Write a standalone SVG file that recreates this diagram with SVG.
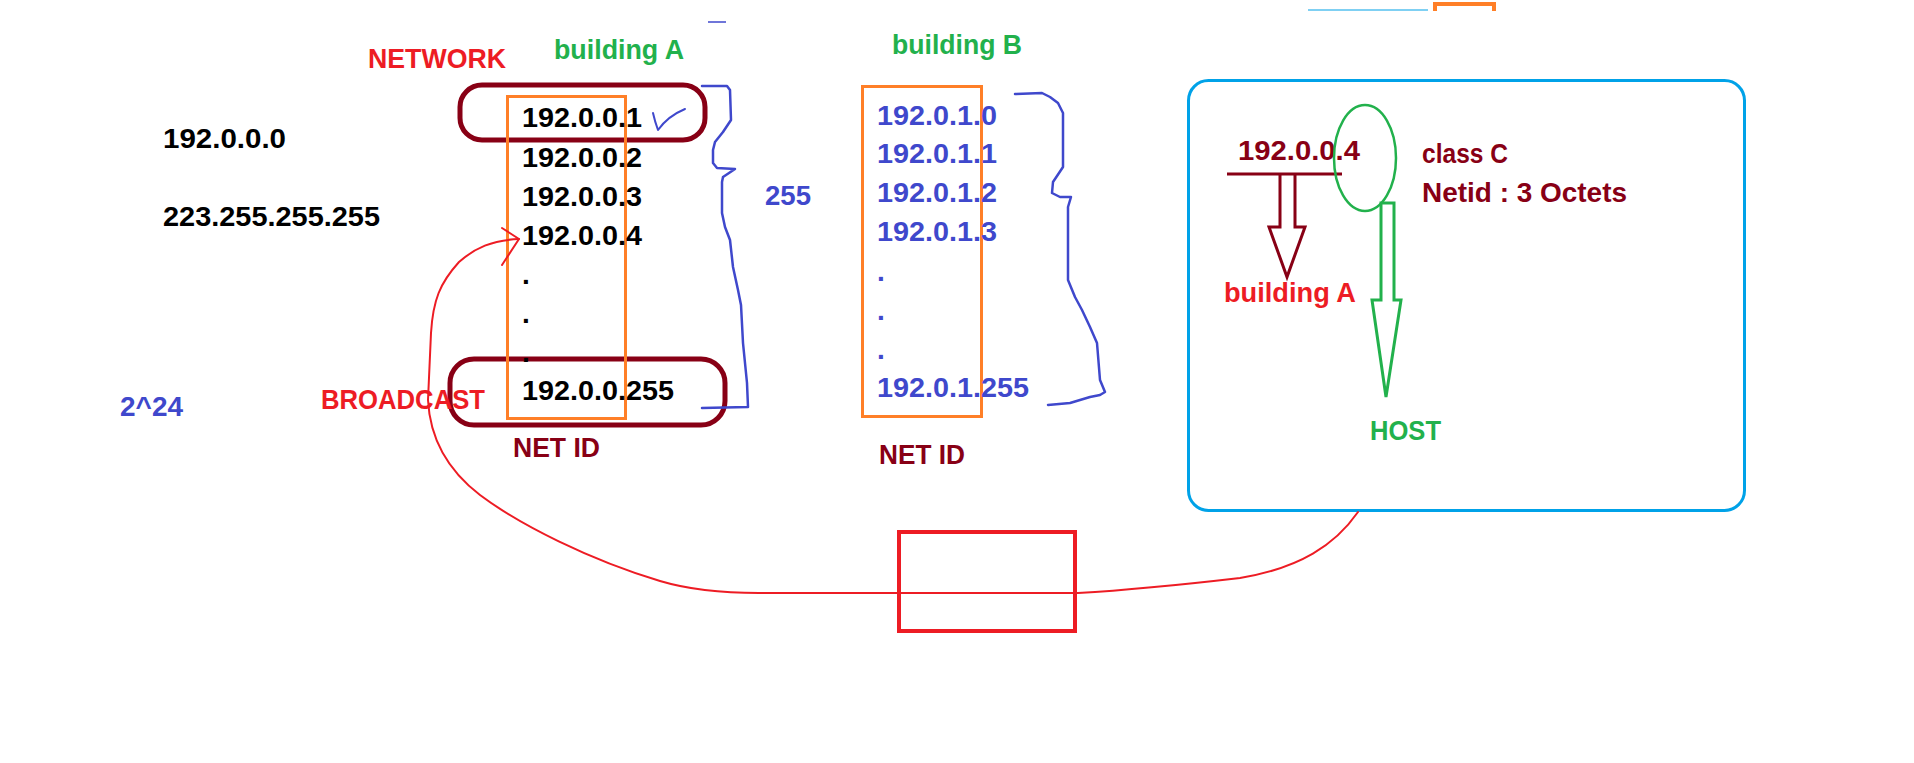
<svg xmlns="http://www.w3.org/2000/svg" width="1914" height="763" viewBox="0 0 1914 763">
<style>
.t{font-family:"Liberation Sans",Arial,sans-serif;font-weight:bold;font-size:28px}
.red{fill:#ED1C24}.green{fill:#22B14C}.blue{fill:#3F48CC}.maroon{fill:#880015}.black{fill:#000}
.ln{fill:none;stroke-linejoin:round;stroke-linecap:round}
</style>
<rect width="1914" height="763" fill="#fff"/>

<g id="top-marks">
<line x1="708" y1="22" x2="726" y2="22" stroke="#3F48CC" stroke-width="1.5"/>
<line x1="1308" y1="10" x2="1428" y2="10" stroke="#00A2E8" stroke-width="1.2"/>
<path d="M1435,11 V4 H1494 V11" fill="none" stroke="#FF7F27" stroke-width="4"/>
</g>

<g id="labels-left">
<text class="t red" x="368" y="68" textLength="138" lengthAdjust="spacingAndGlyphs">NETWORK</text>
<text class="t black" x="163" y="148" textLength="123" lengthAdjust="spacingAndGlyphs">192.0.0.0</text>
<text class="t black" x="163" y="226" textLength="217" lengthAdjust="spacingAndGlyphs">223.255.255.255</text>
<text class="t blue" x="120" y="416" textLength="63" lengthAdjust="spacingAndGlyphs">2^24</text>
</g>

<g id="building-a">
<rect x="460" y="85" width="245" height="55" rx="22" fill="none" stroke="#880015" stroke-width="5"/>
<rect x="450" y="359" width="275" height="66" rx="24" fill="none" stroke="#880015" stroke-width="5"/>
<rect x="507.5" y="96.5" width="118" height="322" fill="none" stroke="#FF7F27" stroke-width="3"/>
<text class="t green" x="554" y="59" textLength="130" lengthAdjust="spacingAndGlyphs">building A</text>
<text class="t black" x="522" y="127" textLength="120" lengthAdjust="spacingAndGlyphs">192.0.0.1</text>
<text class="t black" x="522" y="167" textLength="120" lengthAdjust="spacingAndGlyphs">192.0.0.2</text>
<text class="t black" x="522" y="206" textLength="120" lengthAdjust="spacingAndGlyphs">192.0.0.3</text>
<text class="t black" x="522" y="245" textLength="120" lengthAdjust="spacingAndGlyphs">192.0.0.4</text>
<text class="t black" x="522" y="284">.</text>
<text class="t black" x="522" y="323">.</text>
<text class="t black" x="522" y="362">.</text>
<text class="t black" x="522" y="400" textLength="152" lengthAdjust="spacingAndGlyphs">192.0.0.255</text>
<text class="t red" x="321" y="409" textLength="164" lengthAdjust="spacingAndGlyphs">BROADCAST</text>
<text class="t maroon" x="513" y="457" textLength="87" lengthAdjust="spacingAndGlyphs">NET ID</text>
<path class="ln" d="M653,113 Q655,122 658,130 Q668,116 685,109" stroke="#3F48CC" stroke-width="2"/>
<path class="ln" d="M702,86 L727,86 L730,90 L731,120 L723,132 L715,142 L713,150 L713,163 L717,168 L735,169 L723,177 L722,182 L722,213 L725,227 L730,240 L733,267 L738,290 L741,305 L743,343 L747,383 L748,407 L702,408" stroke="#3F48CC" stroke-width="2.5"/>
<text class="t blue" x="765" y="205" textLength="46" lengthAdjust="spacingAndGlyphs">255</text>
</g>

<g id="building-b">
<rect x="862.5" y="86.5" width="119" height="330" fill="none" stroke="#FF7F27" stroke-width="3"/>
<text class="t green" x="892" y="54" textLength="130" lengthAdjust="spacingAndGlyphs">building B</text>
<text class="t blue" x="877" y="125" textLength="120" lengthAdjust="spacingAndGlyphs">192.0.1.0</text>
<text class="t blue" x="877" y="163" textLength="120" lengthAdjust="spacingAndGlyphs">192.0.1.1</text>
<text class="t blue" x="877" y="202" textLength="120" lengthAdjust="spacingAndGlyphs">192.0.1.2</text>
<text class="t blue" x="877" y="241" textLength="120" lengthAdjust="spacingAndGlyphs">192.0.1.3</text>
<text class="t blue" x="877" y="281">.</text>
<text class="t blue" x="877" y="320">.</text>
<text class="t blue" x="877" y="359">.</text>
<text class="t blue" x="877" y="397" textLength="152" lengthAdjust="spacingAndGlyphs">192.0.1.255</text>
<text class="t maroon" x="879" y="464" textLength="86" lengthAdjust="spacingAndGlyphs">NET ID</text>
<path class="ln" d="M1015,94 L1042,93 L1050,97 L1058,103 L1063,113 L1063,167 L1053,182 L1052,193 L1060,197 L1071,197 L1068,207 L1068,280 L1075,297 L1082,310 L1090,327 L1097,343 L1100,380 L1105,392 L1100,395 L1090,397 L1070,403 L1048,405" stroke="#3F48CC" stroke-width="2.5"/>
</g>

<g id="class-c-box">
<rect x="1188.5" y="80.5" width="556" height="430" rx="20" fill="none" stroke="#00A2E8" stroke-width="3"/>
<text class="t maroon" x="1238" y="160" textLength="122" lengthAdjust="spacingAndGlyphs">192.0.0.4</text>
<line x1="1227" y1="174" x2="1342" y2="174" stroke="#880015" stroke-width="3"/>
<path d="M1280,174 V227 H1269 L1287,277 L1305,227 H1295 V174" fill="none" stroke="#880015" stroke-width="3"/>
<text class="t red" x="1224" y="302" textLength="132" lengthAdjust="spacingAndGlyphs">building A</text>
<ellipse cx="1365" cy="158" rx="31" ry="53" fill="none" stroke="#22B14C" stroke-width="2.5"/>
<path d="M1381,203 V300 H1372 L1386,397 L1401,300 H1394 V203 Z" fill="none" stroke="#22B14C" stroke-width="3"/>
<text class="t green" x="1370" y="440" textLength="71" lengthAdjust="spacingAndGlyphs">HOST</text>
<text class="t maroon" x="1422" y="163" textLength="86" lengthAdjust="spacingAndGlyphs">class C</text>
<text class="t maroon" x="1422" y="202" textLength="205" lengthAdjust="spacingAndGlyphs">Netid : 3 Octets</text>
</g>

<g id="red-box">
<rect x="899" y="532" width="176" height="99" fill="none" stroke="#ED1C24" stroke-width="4"/>
</g>

<g id="connectors">
<path class="ln" d="M1358,512 C1335,545 1300,568 1240,578 C1180,585 1130,590 1078,593 L759,593 C720,593 690,590 660,581 C590,560 520,525 480,495 C450,472 430,440 428,400 L431,333 C433,300 440,283 459,262 C475,248 492,240 519,239" stroke="#ED1C24" stroke-width="2"/>
<path class="ln" d="M502,228 L519,239 L502,265" stroke="#ED1C24" stroke-width="2"/>
</g>
</svg>
